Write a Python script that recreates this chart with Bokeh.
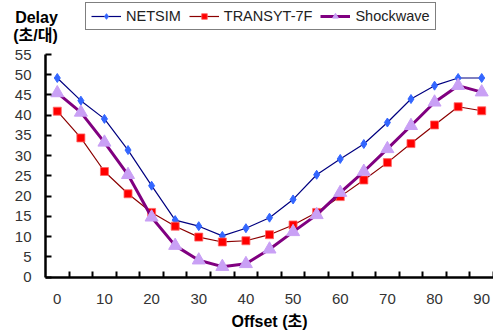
from bokeh.plotting import figure
from bokeh.models import (FixedTicker, Legend, LegendItem, Label, Range1d,
                          ColumnDataSource)
from bokeh.embed import file_html
from bokeh.resources import INLINE

# Offset (seconds) and average delay (seconds per vehicle)
offsets = [0, 5, 10, 15, 20, 25, 30, 35, 40, 45, 50, 55, 60, 65, 70, 75, 80, 85, 90]
netsim = [49.2, 43.6, 39.1, 31.4, 22.6, 14.1, 12.6, 10.2, 12.1, 14.7, 19.2, 25.3,
          29.2, 32.9, 38.2, 44.0, 47.3, 49.2, 49.2]
transyt = [41.0, 34.4, 26.1, 20.6, 16.0, 12.6, 9.9, 8.7, 9.0, 10.5, 12.9, 16.0,
           19.9, 24.0, 28.3, 33.0, 37.6, 42.1, 41.1]
shockwave = [45.5, 40.7, 33.3, 25.3, 14.8, 7.8, 4.2, 2.6, 3.3, 6.9, 11.2, 15.4,
             20.9, 26.1, 31.7, 37.4, 43.2, 47.3, 45.7]

x_labels = [0, 10, 20, 30, 40, 50, 60, 70, 80, 90]
y_ticks = [0, 5, 10, 15, 20, 25, 30, 35, 40, 45, 50, 55]
step = 5

FONT = "Liberation Sans, Noto Sans CJK KR"

W, H = 493, 331
# pixel box of the plotting area (axes meet at its bottom-left corner)
AX_LEFT, AX_RIGHT, AX_TOP, AX_BOTTOM = 45, 493, 54, 276.7

x_lo, x_hi = offsets[0] - step / 2, offsets[-1] + step / 2
y_lo, y_hi = 0, 55
sx = (AX_RIGHT - AX_LEFT) / (x_hi - x_lo)
sy = (AX_BOTTOM - AX_TOP) / (y_hi - y_lo)

src = ColumnDataSource(dict(x=offsets, n=netsim, t=transyt, s=shockwave))

# the frame spans the whole canvas so titles and legend sit inside it;
# the axes are pinned to the data box
p = figure(width=W, height=H, output_backend="svg", toolbar_location=None,
           x_range=Range1d(x_lo - AX_LEFT / sx, x_hi + (W - AX_RIGHT) / sx),
           y_range=Range1d(y_lo - (H - AX_BOTTOM) / sy, y_hi + AX_TOP / sy),
           min_border=0)
p.outline_line_color = None
p.grid.visible = False
p.background_fill_color = "white"
p.border_fill_color = "white"

p.xaxis.fixed_location = y_lo
p.xaxis.bounds = (x_lo, x_hi)
p.yaxis.fixed_location = x_lo
p.yaxis.bounds = (y_lo, y_hi)

# x axis: labels at category centres, tick marks at category boundaries
boundaries = [o + step / 2 for o in offsets]
p.xaxis.ticker = FixedTicker(ticks=x_labels, minor_ticks=boundaries)
p.xaxis.major_tick_line_color = None
p.xaxis.minor_tick_in = 6
p.xaxis.minor_tick_out = 0
p.xaxis.minor_tick_line_width = 2
p.xaxis.minor_tick_line_color = "black"
p.xaxis.major_label_standoff = 11
p.xaxis.axis_label = "Offset (초)"
p.xaxis.axis_label_standoff = 5

p.yaxis.ticker = FixedTicker(ticks=y_ticks, minor_ticks=[])
p.yaxis.major_tick_in = 6
p.yaxis.major_tick_out = 0
p.yaxis.major_tick_line_width = 2
p.yaxis.major_label_standoff = 14

for ax in (p.xaxis, p.yaxis):
    ax.axis_line_width = 2.5
    ax.axis_line_color = "black"
    ax.major_label_text_font = FONT
    ax.major_label_text_font_size = "15px"
    ax.major_label_text_color = "#333333"
    ax.axis_label_text_font = FONT
    ax.axis_label_text_font_size = "16px"
    ax.axis_label_text_font_style = "bold"
    ax.axis_label_text_color = "black"

# series
l_n = p.line("x", "n", source=src, line_color="#000080", line_width=1.2)
m_n = p.scatter("x", "n", source=src, marker="diamond", size=9,
                fill_color="#3366FF", line_color="#3366FF")
l_t = p.line("x", "t", source=src, line_color="#8B0000", line_width=1.2)
m_t = p.scatter("x", "t", source=src, marker="square", size=8,
                fill_color="#FF0000", line_color="#FF6666", line_width=0.8)
l_s = p.line("x", "s", source=src, line_color="#800080", line_width=3)
m_s = p.scatter("x", "s", source=src, marker="triangle", size=13,
                fill_color="#C9A0F5", line_color="#C9A0F5")

legend = Legend(items=[
    LegendItem(label="NETSIM", renderers=[l_n, m_n]),
    LegendItem(label="TRANSYT-7F", renderers=[l_t, m_t]),
    LegendItem(label="Shockwave", renderers=[l_s, m_s]),
], orientation="horizontal", location=(85, H - 30))
legend.label_text_font = FONT
legend.label_text_font_size = "14.5px"
legend.label_text_color = "#222222"
legend.glyph_width = 30
legend.glyph_height = 14
legend.label_height = 14
legend.label_standoff = 5
legend.spacing = 8
legend.padding = 5
legend.margin = 0
legend.border_line_color = "black"
legend.border_line_width = 1
legend.background_fill_alpha = 1
p.add_layout(legend, "center")

# y axis title, two lines above the axis
for txt, xx, yy in (("Delay", 36, H - 17), ("(초/대)", 35, H - 35)):
    p.add_layout(Label(x=xx, y=yy, x_units="screen", y_units="screen", text=txt,
                       text_font=FONT, text_font_size="16px",
                       text_font_style="bold", text_align="center",
                       text_baseline="middle", text_color="black"))

open("out.html", "w").write(file_html(p, INLINE))
